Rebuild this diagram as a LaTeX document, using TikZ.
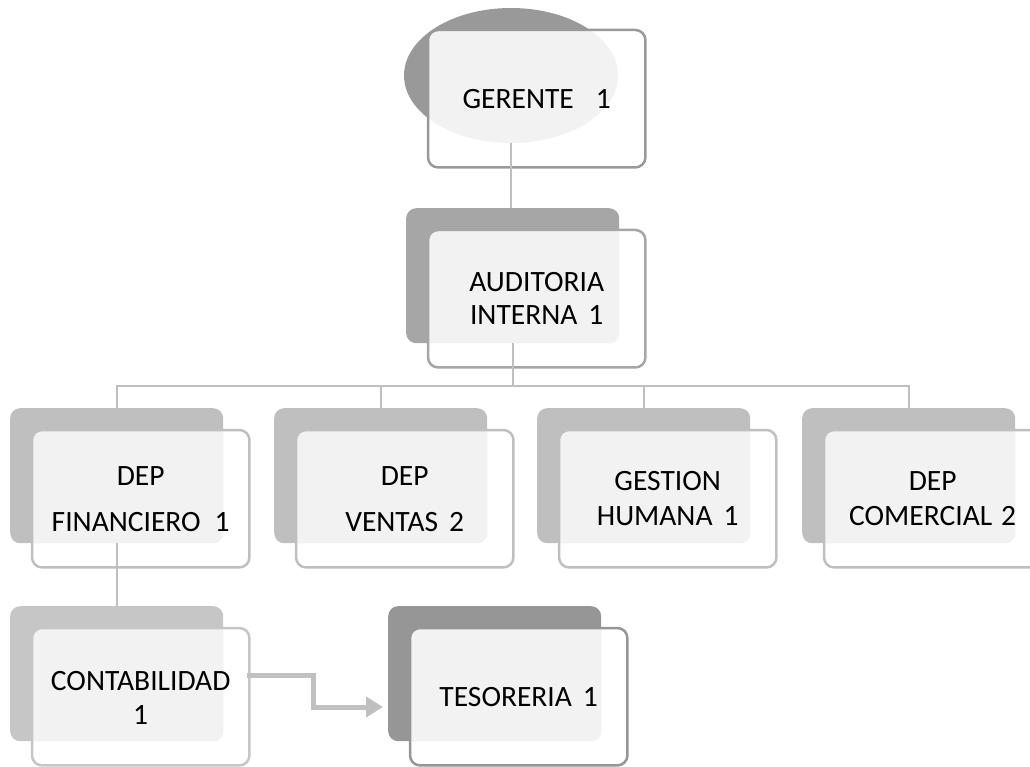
\documentclass[tikz,border=0pt]{standalone}
\usepackage{fontspec}
\setmainfont{Carlito}
\usetikzlibrary{arrows.meta,calc,shapes.geometric}
\definecolor{lightfill}{HTML}{F2F2F2}
\definecolor{gercol}{HTML}{999999}
\definecolor{audcol}{HTML}{A6A6A6}
\definecolor{depcol}{HTML}{BFBFBF}
\definecolor{contcol}{HTML}{C6C6C6}
\definecolor{tescol}{HTML}{969696}
\definecolor{connc}{HTML}{BFBFBF}
\definecolor{arrowc}{HTML}{C0C0C0}
\newcommand\orgunit[6]{%
  \node[backbox, fill=#2] (#1b) at (#3,#4) {};
  \node[frontbox] (#1) at ($(#1b.north west)+(22,22)$) {};
  \begin{scope}
    \clip[rounded corners=10pt] (#1.north west) rectangle (#1.south east);
    \fill[lightfill, rounded corners=10pt] (#1b.north west) rectangle (#1b.south east);
  \end{scope}
  \draw[draw=#2, line width=2.5pt, rounded corners=10pt] (#1.north west) rectangle (#1.south east);
  \node[lbl] (#1t) at ($(#1.center)+(0,#6)$) {#5};
}
\begin{document}
\begin{tikzpicture}[x=1pt,y=-1pt,
  backbox/.style={rectangle, rounded corners=10pt, minimum width=213pt, minimum height=135pt, inner sep=0pt, anchor=north west},
  frontbox/.style={rectangle, rounded corners=10pt, minimum width=217pt, minimum height=137pt, inner sep=0pt, anchor=north west, fill=white},
  lbl/.style={font=\fontsize{29.5}{35}\selectfont, align=center, inner sep=0pt},
  conn/.style={draw=connc, line width=2pt},
  fat/.style={draw=arrowc, line width=5pt, -{Triangle[length=17pt,width=20pt]}}]
\useasboundingbox (0,0) rectangle (1030,767);

% GERENTE
\node[ellipse, fill=gercol, minimum width=214pt, minimum height=135pt, inner sep=0pt] (gerb) at (511,75.5) {};
\node[frontbox] (ger) at (428,30) {};
\begin{scope}
  \clip[rounded corners=10pt] (ger.north west) rectangle (ger.south east);
  \fill[lightfill] (511,75.5) ellipse [x radius=107, y radius=67.5];
\end{scope}
\draw[draw=gercol, line width=2.5pt, rounded corners=10pt] (ger.north west) rectangle (ger.south east);
\node[lbl] (gert) at (ger.center) {GERENTE\hspace{22pt}1};

% AUDITORIA
\orgunit{aud}{audcol}{406}{208}{AUDITORIA\\[-2pt]INTERNA\hspace{11pt}1}{0}

% DEP row
\orgunit{fin}{depcol}{10}{408}{DEP\\[11pt]FINANCIERO\hspace{14pt}1}{0}
\orgunit{ven}{depcol}{274}{408}{DEP\\[11pt]VENTAS\hspace{11pt}2}{0}
\orgunit{ges}{depcol}{537}{408}{GESTION\\HUMANA\hspace{11pt}1}{0}
\orgunit{com}{depcol}{802}{408}{DEP\\COMERCIAL\hspace{9pt}2}{0}

% bottom row
\orgunit{cont}{contcol}{10}{606}{CONTABILIDAD\\[-1pt]1}{1.5}
\orgunit{tes}{tescol}{388}{606}{TESORERIA\hspace{11pt}1}{0}

% connectors
\draw[conn] (gerb.south) -- (gerb.south |- audb.north);
\coordinate (bus) at ($(audb.south)+(0,43)$);
\draw[conn] (audb.south) -- (bus);
\draw[conn] (bus) -| (finb.north);
\draw[conn] (bus) -| (venb.north);
\draw[conn] (bus) -| (gesb.north);
\draw[conn] (bus) -| (comb.north);
\draw[conn] (finb.south) -- (contb.north);

\coordinate (arrtip) at (383,707);
\draw[fat] ([xshift=-2pt,yshift=21pt]cont.east) -- ++(66,0) |- (arrtip);
\end{tikzpicture}
\end{document}
